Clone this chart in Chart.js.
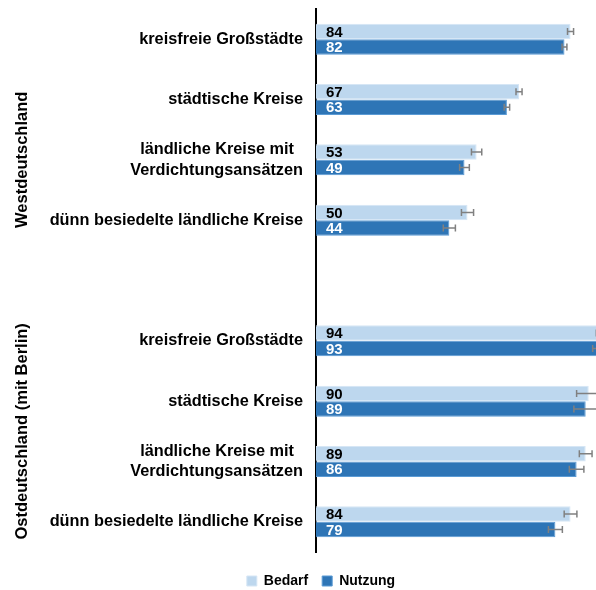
<!DOCTYPE html>
<html>
<head>
<meta charset="utf-8">
<script src="https://cdn.jsdelivr.net/npm/chart.js@4.4.1/dist/chart.umd.min.js"></script>
<style>
  html, body { margin: 0; padding: 0; background: #fff; }
  #wrap { width: 596px; height: 590px; }
</style>
</head>
<body>
<div id="wrap"><canvas id="chart"></canvas></div>
<script>
// Data
const categories = [
  "kreisfreie Großstädte",
  "städtische Kreise",
  ["ländliche Kreise mit  ", "Verdichtungsansätzen"],
  "dünn besiedelte ländliche Kreise",
  "",
  "kreisfreie Großstädte",
  "städtische Kreise",
  ["ländliche Kreise mit  ", "Verdichtungsansätzen"],
  "dünn besiedelte ländliche Kreise",
];
const bedarf = [84, 67, 53, 50, null, 94, 90, 89, 84];
const nutzung = [82, 63, 49, 44, null, 93, 89, 86, 79];
const bedarfErr = [1, 1, 1.7, 2, null, 1.5, 4, 2.1, 2.1];
const nutzungErr = [0.8, 0.9, 1.6, 2, null, 1.7, 3.9, 2.4, 2.3];
const groups = ["Westdeutschland", "Ostdeutschland (mit Berlin)"];
const groupStart = [0, 5];
const groupEnd = [4, 8];

const FONT = "'Liberation Sans', Arial, sans-serif";
const errors = [bedarfErr, nutzungErr];

// error bars, value labels and group titles
const extras = {
  id: "extras",
  afterDatasetsDraw(chart) {
    const ctx = chart.ctx;
    const x = chart.scales.x;
    const y = chart.scales.y;

    ctx.save();
    chart.data.datasets.forEach((ds, i) => {
      const meta = chart.getDatasetMeta(i);
      meta.data.forEach((bar, j) => {
        const v = ds.data[j];
        if (v == null) return;
        // value label
        ctx.font = "bold 15px " + FONT;
        ctx.fillStyle = i === 0 ? "#000" : "#fff";
        ctx.textAlign = "left";
        ctx.textBaseline = "middle";
        ctx.fillText(String(v), bar.base + 10, bar.y + 1);
        // error bar
        const e = errors[i][j];
        const x1 = x.getPixelForValue(v - e);
        const x2 = x.getPixelForValue(v + e);
        ctx.strokeStyle = "#808080";
        ctx.lineWidth = 1.5;
        ctx.beginPath();
        ctx.moveTo(x1, bar.y);
        ctx.lineTo(x2, bar.y);
        ctx.moveTo(x1, bar.y - 3.5);
        ctx.lineTo(x1, bar.y + 3.5);
        ctx.moveTo(x2, bar.y - 3.5);
        ctx.lineTo(x2, bar.y + 3.5);
        ctx.stroke();
      });
    });

    // rotated group titles
    ctx.font = "bold 16.5px " + FONT;
    ctx.fillStyle = "#000";
    ctx.textAlign = "center";
    ctx.textBaseline = "middle";
    groups.forEach((g, k) => {
      const cy = (y.getPixelForValue(groupStart[k]) + y.getPixelForValue(groupEnd[k])) / 2;
      ctx.save();
      ctx.translate(22, cy);
      ctx.rotate(-Math.PI / 2);
      ctx.fillText(g, 0, 0);
      ctx.restore();
    });
    ctx.restore();
  },
};

new Chart(document.getElementById("chart"), {
  type: "bar",
  data: {
    labels: categories,
    datasets: [
      {
        label: "Bedarf",
        data: bedarf,
        backgroundColor: "#bdd7ee",
        borderColor: "#d6e6f5",
        borderWidth: 1,
      },
      {
        label: "Nutzung",
        data: nutzung,
        backgroundColor: "#2e75b6",
        borderColor: "#5b9bd5",
        borderWidth: 1,
      },
    ],
  },
  options: {
    indexAxis: "y",
    responsive: true,
    maintainAspectRatio: false,
    animation: false,
    barPercentage: 1,
    categoryPercentage: 0.515,
    layout: { padding: { top: 9, left: 46, right: 0, bottom: -8 } },
    scales: {
      x: { display: false, min: 0, max: 92.4 },
      y: {
        grid: { display: false },
        border: { display: true, color: "#000", width: 2 },
        ticks: {
          padding: 5,
          color: "#000",
          font: { family: FONT, size: 16.3, weight: "bold", lineHeight: 1.25 },
        },
        afterFit(scale) {
          scale.width = 270;
          scale.paddingTop = 0;
          scale.paddingBottom = 0;
        },
      },
    },
    plugins: {
      legend: {
        position: "bottom",
        title: { display: true, text: "", padding: 0, font: { size: 8, lineHeight: 1 } },
        labels: {
          color: "#000",
          boxWidth: 10,
          boxHeight: 10,
          padding: 14,
          font: { family: FONT, size: 14, weight: "bold" },
        },
      },
      tooltip: { enabled: false },
    },
  },
  plugins: [extras],
});
</script>
</body>
</html>
